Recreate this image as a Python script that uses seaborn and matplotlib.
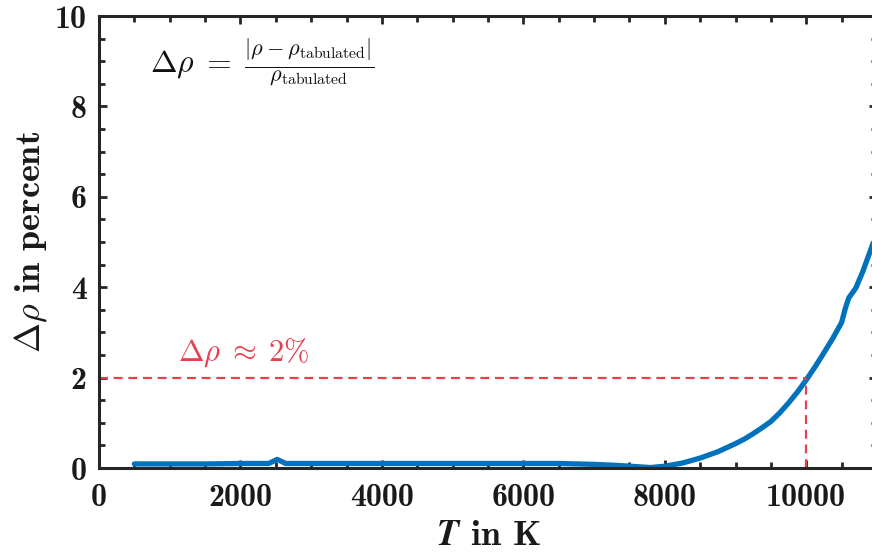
import matplotlib
matplotlib.use("Agg")
import matplotlib.pyplot as plt
import seaborn as sns
import pandas as pd
from matplotlib.ticker import MultipleLocator

# Data
T_K = [500, 1000, 1500, 2000, 2400, 2520, 2640, 3000, 3500, 4000, 4500, 5000,
       5500, 6000, 6500, 7000, 7300, 7500, 7700, 7800, 8000, 8250, 8500, 8750,
       9000, 9125, 9250, 9375, 9500, 9625, 9750, 9875, 10000, 10125, 10250,
       10375, 10500, 10550, 10600, 10700, 10800, 10900, 11000]
drho_pct = [0.09, 0.09, 0.09, 0.10, 0.10, 0.19, 0.10, 0.10, 0.10, 0.10, 0.10, 0.10,
            0.10, 0.10, 0.10, 0.08, 0.06, 0.04, 0.02, 0.01, 0.04, 0.11, 0.22, 0.36,
            0.54, 0.64, 0.76, 0.89, 1.03, 1.22, 1.44, 1.68, 1.95, 2.24, 2.55,
            2.87, 3.22, 3.52, 3.76, 3.98, 4.35, 4.78, 5.22]
x_ticks = [0, 2000, 4000, 6000, 8000, 10000]
y_ticks = [0, 2, 4, 6, 8, 10]
threshold_T = 10000
threshold_pct = 2

df = pd.DataFrame({"T": T_K, "drho": drho_pct})

sns.set_style("ticks")
plt.rcParams["mathtext.fontset"] = "cm"
plt.rcParams["axes.unicode_minus"] = False

fig = plt.figure(figsize=(8.72, 5.55), dpi=100)
ax = fig.add_axes([99/872, (555-468)/555, (877-99)/872, (468-16)/555])

sns.lineplot(data=df, x="T", y="drho", ax=ax, color="#0072BD", linewidth=3.8)

red = "#E5414F"
ax.plot([0, threshold_T], [threshold_pct, threshold_pct], ls=(0, (4, 2.6)), color=red, lw=1.6)
ax.plot([threshold_T, threshold_T], [0, threshold_pct], ls=(0, (4, 2.6)), color=red, lw=1.6)

ax.set_xlim(0, 11000)
ax.set_ylim(0, 10)
ax.set_xticks(x_ticks)
ax.set_yticks(y_ticks)
ax.xaxis.set_minor_locator(MultipleLocator(500))
ax.yaxis.set_minor_locator(MultipleLocator(0.5))

dark = "#262626"
for s in ax.spines.values():
    s.set_visible(True)
    s.set_linewidth(2.2)
    s.set_color(dark)
ax.tick_params(which="both", direction="in", top=True, right=True, color=dark, width=2)
ax.tick_params(which="major", length=6, pad=9, labelsize=23, labelcolor="#1a1a1a")
ax.tick_params(axis="x", which="major", pad=11)
ax.tick_params(which="minor", length=4)
for lab in ax.get_xticklabels() + ax.get_yticklabels():
    lab.set_fontfamily("cmb10")

ax.set_xlabel(r"$\mathbfit{T}$ in K", fontsize=26, fontfamily="cmb10",
              math_fontfamily="stix", color="#1a1a1a", labelpad=6)
ax.set_ylabel(r"$\mathbf{\Delta}\rho$ in percent",
              fontsize=26, fontfamily="cmb10", color="#1a1a1a", labelpad=4)

fig.text(150/872, 1 - 62/555,
         r"$\Delta\rho\;=\;\frac{|\rho - \rho_{\rm tabulated}|}{\rho_{\rm tabulated}}$",
         fontsize=23, va="center", ha="left", color="#111111")
ax.text(1110, 2.2, r"$\Delta\rho\;\approx\;2\%$", fontsize=22, color=red, va="bottom", ha="left")

fig.savefig("out.png", dpi=100)
